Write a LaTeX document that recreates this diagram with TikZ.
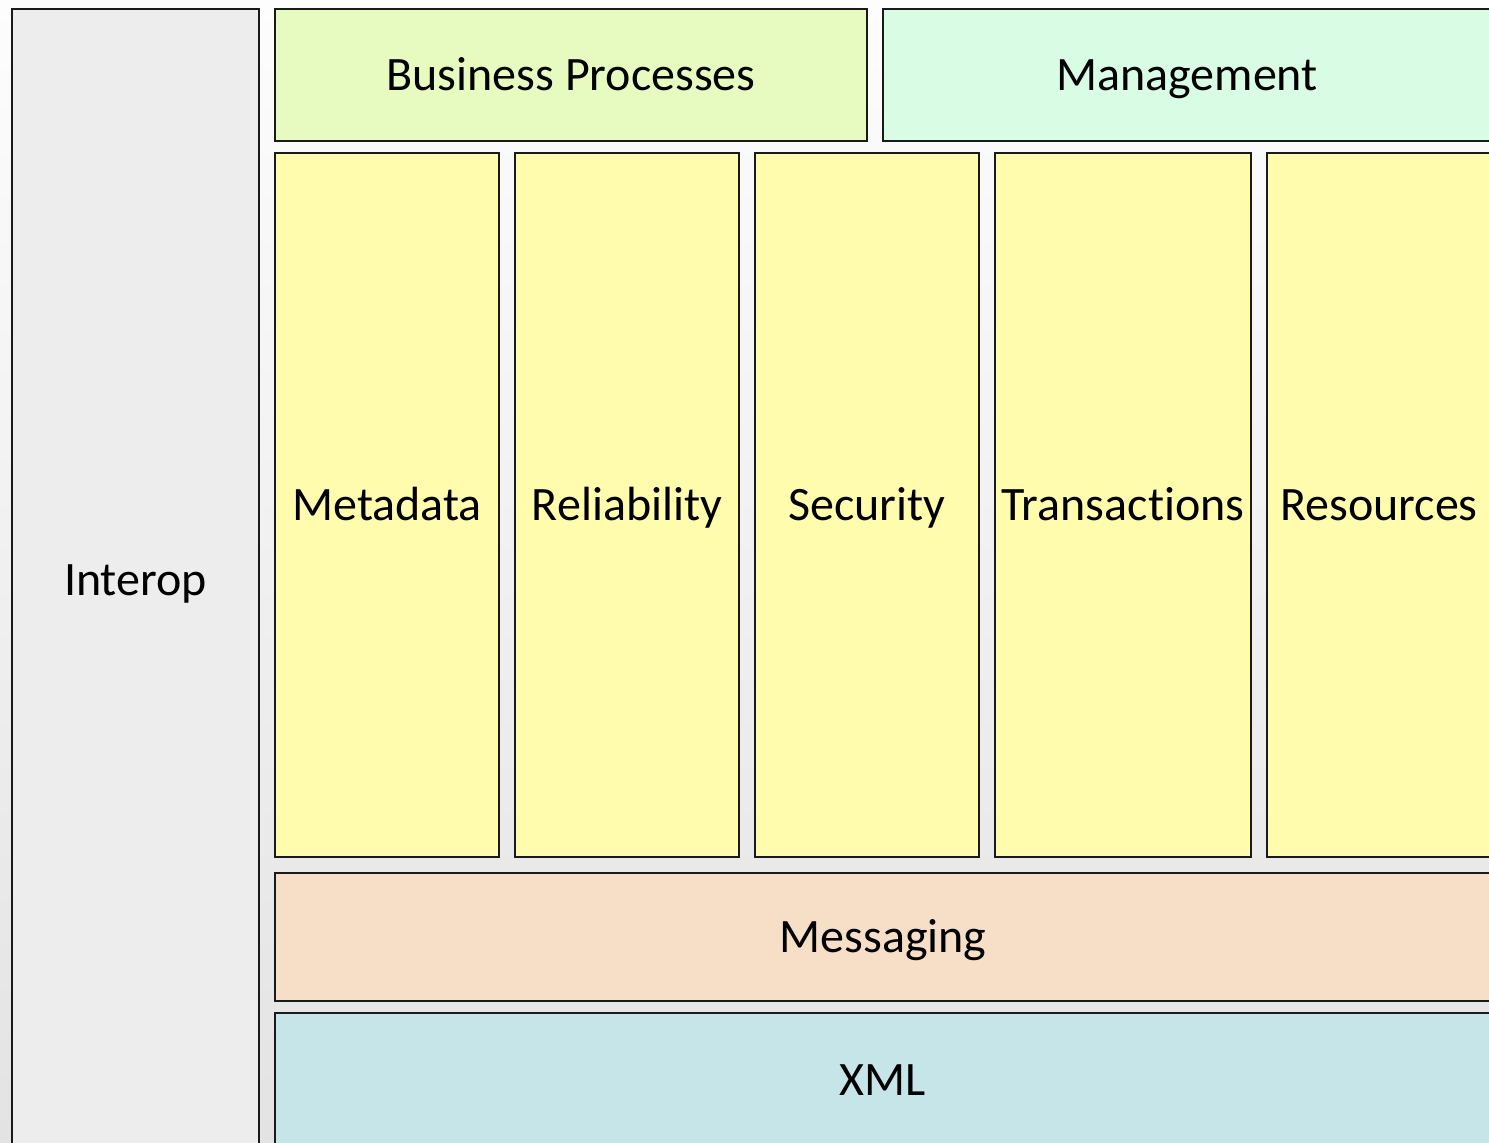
\documentclass[tikz,border=0pt]{standalone}
\usepackage{fontspec}
\setmainfont{Carlito}[Ligatures=NoCommon]
\usepackage{tikz}
\usetikzlibrary{positioning}

\definecolor{interopfill}{RGB}{237,237,237}
\definecolor{bizfill}{RGB}{231,251,192}
\definecolor{mgmtfill}{RGB}{216,252,228}
\definecolor{colfill}{RGB}{255,252,174}
\definecolor{msgfill}{RGB}{247,222,198}
\definecolor{xmlfill}{RGB}{198,229,232}
\definecolor{edge}{RGB}{26,26,26}

\tikzset{
  box/.style={draw=edge, line width=1pt, inner sep=0pt, outer sep=0pt,
    text height=15.5pt, text depth=0pt,
    font=\fontsize{24}{28}\selectfont},
  col/.style={box, fill=colfill, minimum width=112pt, minimum height=352pt},
  band/.style={box, minimum width=608pt}
}

\begin{document}
\begin{tikzpicture}[x=0.5pt,y=0.5pt,yscale=-1]
\useasboundingbox (0,0) rectangle (1489,1142);
\clip (0,0) rectangle (1489,1142);

% backdrop
\shade[top color={rgb,255:red,253;green,253;blue,253}, bottom color={rgb,255:red,227;green,227;blue,227}] (0,0) rectangle (1489,1142);

% side column
\node[box, fill=interopfill, minimum width=123.5pt, minimum height=571pt] (interop) at (135.5,580) {Interop};

% top row
\node[box, fill=bizfill, minimum width=296pt, minimum height=66pt] (biz) at (571,75) {Business Processes};
\node[box, fill=mgmtfill, minimum width=304pt, minimum height=66pt, right=8pt of biz] (mgmt) {Management};

% the columns
\node[col] (meta) at (387,505) {Metadata};
\node[col, right=8pt of meta] (rel) {Reliability};
\node[col, right=8pt of rel] (sec) {Security};
\node[col, minimum width=128pt, right=8pt of sec] (trans) {Transactions};
\node[col, right=8pt of trans] (res) {Resources};

% bottom bands
\node[band, fill=msgfill, minimum height=64pt] (msg) at (883,937) {Messaging};
\node[band, fill=xmlfill, minimum height=67pt] (xml) at (883,1080) {XML};

\end{tikzpicture}
\end{document}
